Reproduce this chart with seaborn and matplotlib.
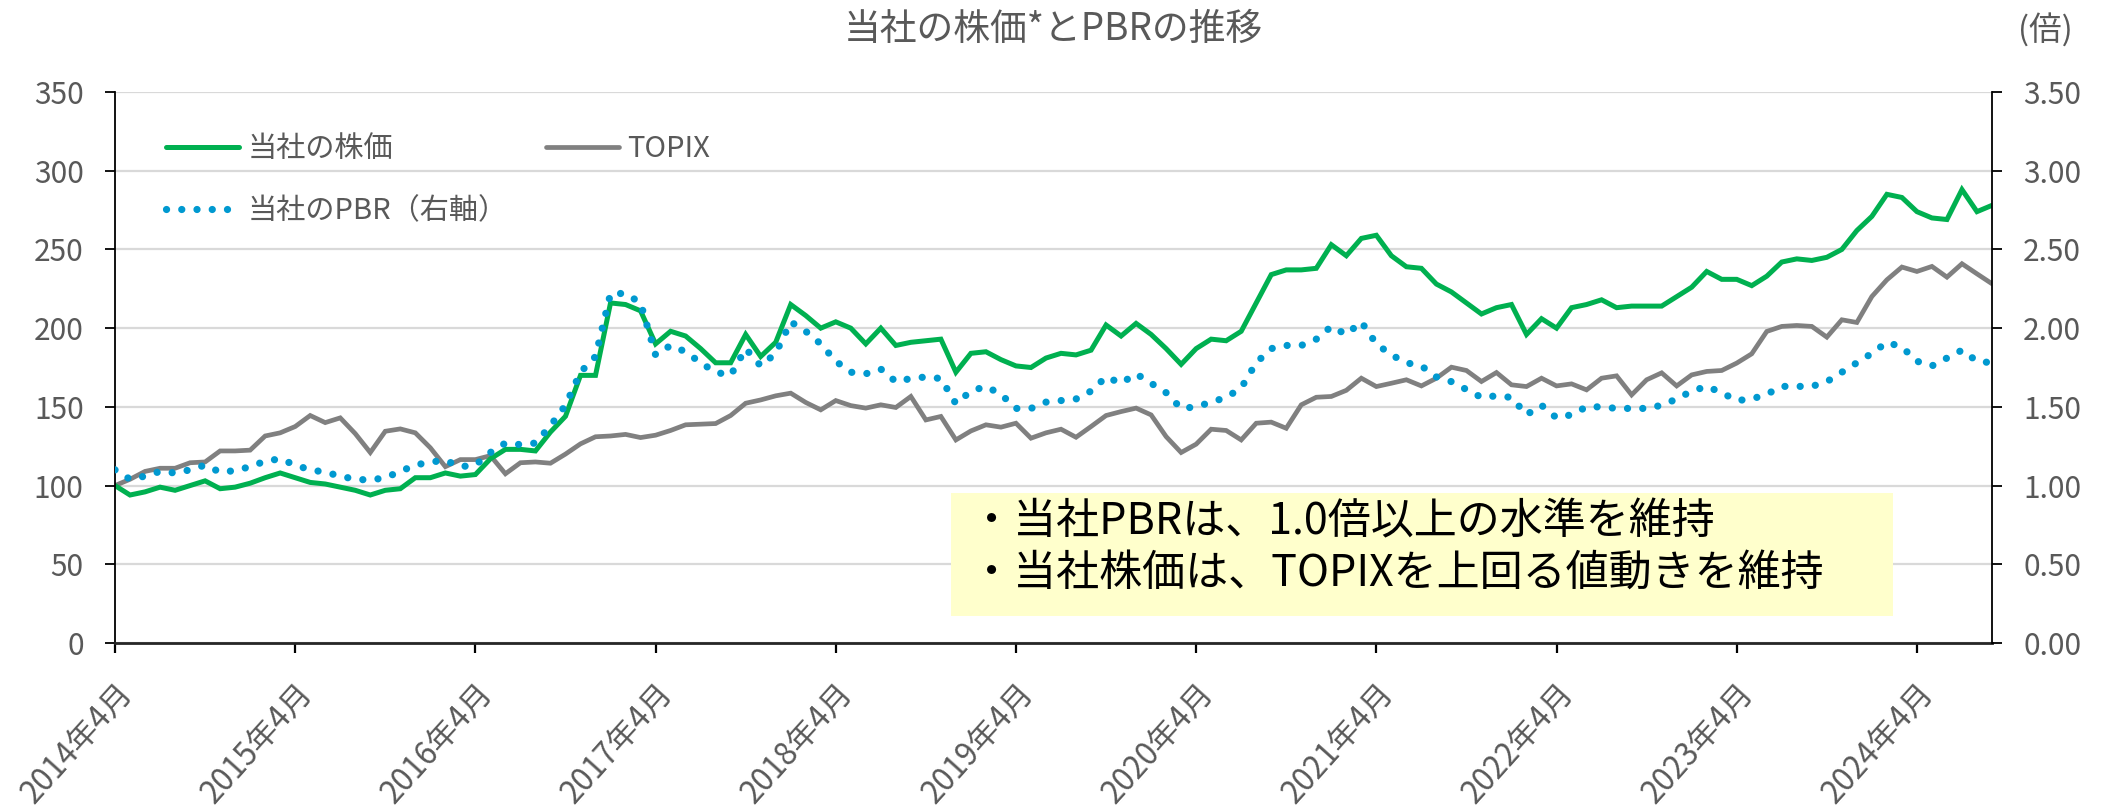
import numpy as np
import pandas as pd
import matplotlib
matplotlib.use("Agg")
import matplotlib.pyplot as plt
import seaborn as sns
from matplotlib.patches import Rectangle
from matplotlib.ticker import FormatStrFormatter

# ---- data (monthly, 2014-04 .. 2024-09) ----
start_month = "2014-04"
stock = [100, 94, 96, 99, 97, 100, 103, 98, 99, 101.5,
         105, 108, 105, 102, 101, 99, 97, 94, 97, 98,
         105, 105, 108, 106, 107, 117, 123, 123, 122, 134,
         144, 170, 170, 216, 215, 211, 190, 198, 195, 187,
         178, 178, 196, 182, 191, 215, 208, 200, 204, 200,
         190, 200, 189, 191, 192, 193, 172, 184, 185, 180,
         176, 175, 181, 184, 183, 186, 202, 195, 203, 196,
         187, 177, 187, 193, 192, 198, 216, 234, 237, 237,
         238, 253, 246, 257, 259, 246, 239, 238, 228, 223,
         216, 209, 213, 215, 196, 206, 200, 213, 215, 218,
         213, 214, 214, 214, 220, 226, 236, 231, 231, 227,
         233, 242, 244, 243, 245, 250, 262, 271, 285, 283,
         274, 270, 269, 288, 274, 278]
topix = [100, 104, 109, 111, 111, 114.5, 115, 122, 122, 122.5,
         131.5, 133.5, 137.5, 144.5, 140, 143, 133, 121, 134.5, 136,
         133.5, 124, 112, 116.5, 116.5, 119, 107.5, 114.5, 115, 114.2,
         120, 126.5, 131, 131.5, 132.5, 130.5, 132, 135, 138.6, 139,
         139.4, 144.5, 152.3, 154.4, 157, 158.7, 152.8, 148.1, 154, 150.8,
         149.2, 151.3, 149.6, 156.6, 141.7, 143.9, 129, 134.7, 138.6, 137.1,
         139.6, 130.1, 133.5, 135.8, 130.7, 137.5, 144.5, 147, 149.2, 144.9,
         131.1, 121, 126.3, 135.8, 135, 129, 139.6, 140.3, 136.4, 151.3,
         156.1, 156.6, 160.5, 168.2, 162.9, 165, 167.2, 163.3, 168.2, 175.2,
         173.1, 166.1, 171.8, 164, 162.9, 168.2, 163.3, 164.6, 160.8, 168.2,
         169.7, 157.6, 167.2, 171.6, 163.3, 170.3, 172.5, 173.1, 177.8, 183.7,
         197.9, 201.1, 201.7, 201.1, 194.3, 205.3, 203.6, 220.1, 230.7, 238.8,
         236, 239.2, 232.4, 240.9, 234.5, 228.2]
pbr = [1.10, 1.04, 1.06, 1.09, 1.08, 1.10, 1.13, 1.085, 1.095, 1.12,
       1.155, 1.17, 1.13, 1.10, 1.085, 1.06, 1.04, 1.035, 1.05, 1.09,
       1.13, 1.15, 1.16, 1.12, 1.13, 1.21, 1.27, 1.26, 1.27, 1.38,
       1.51, 1.72, 1.82, 2.22, 2.22, 2.16, 1.83, 1.89, 1.85, 1.78,
       1.72, 1.70, 1.87, 1.76, 1.84, 2.04, 1.98, 1.90, 1.79, 1.72,
       1.71, 1.74, 1.66, 1.68, 1.69, 1.68, 1.52, 1.60, 1.63, 1.58,
       1.49, 1.49, 1.53, 1.54, 1.55, 1.60, 1.69, 1.65, 1.71, 1.65,
       1.59, 1.49, 1.50, 1.53, 1.56, 1.62, 1.78, 1.87, 1.89, 1.89,
       1.93, 2.01, 1.96, 2.04, 1.90, 1.83, 1.78, 1.76, 1.69, 1.66,
       1.61, 1.56, 1.57, 1.56, 1.45, 1.51, 1.43, 1.45, 1.50, 1.50,
       1.49, 1.49, 1.49, 1.51, 1.55, 1.60, 1.63, 1.59, 1.54, 1.55,
       1.58, 1.63, 1.63, 1.63, 1.66, 1.72, 1.78, 1.84, 1.91, 1.88,
       1.79, 1.76, 1.81, 1.86, 1.79, 1.78]
series_names = ["当社の株価", "TOPIX", "当社のPBR（右軸）"]
title = "当社の株価*とPBRの推移"
right_unit = "(倍)"
note_lines = ["・当社PBRは、1.0倍以上の水準を維持",
              "・当社株価は、TOPIXを上回る値動きを維持"]
left_ticks = [0, 50, 100, 150, 200, 250, 300, 350]
right_ticks = [0.0, 0.5, 1.0, 1.5, 2.0, 2.5, 3.0, 3.5]

months = pd.period_range(start_month, periods=len(stock), freq="M")
month_labels = [f"{p.year}年{p.month}月" for p in months]
df = pd.DataFrame({"idx": np.arange(len(stock)), "stock": stock,
                   "topix": topix, "pbr": pbr})

# ---- style ----
sns.set_theme(style="white")
plt.rcParams["font.family"] = ["Noto Sans CJK JP", "DejaVu Sans"]
GREEN = "#00B050"
GRAY = "#808080"
BLUE = "#0099D0"
TXT = "#595959"

W, H = 2110, 810
fig = plt.figure(figsize=(W / 100, H / 100), dpi=100)
L, R, T, B = 115, 1992, 92, 643
ax = fig.add_axes([L / W, 1 - B / H, (R - L) / W, (B - T) / H])

sns.lineplot(data=df, x="idx", y="topix", ax=ax, color=GRAY, lw=3.4,
             label=series_names[1], solid_joinstyle="miter")
sns.lineplot(data=df, x="idx", y="stock", ax=ax, color=GREEN, lw=3.6,
             label=series_names[0], solid_joinstyle="miter")
ax2 = ax.twinx()
ax2.set_position(ax.get_position())
sns.lineplot(data=df, x="idx", y="pbr", ax=ax2, color=BLUE, lw=5.2,
             linestyle=(0, (0.01, 2.1)), dash_capstyle="round",
             label=series_names[2])

for a in (ax, ax2):
    lg = a.get_legend()
    if lg is not None:
        lg.remove()
    a.set_xlabel("")
    a.set_ylabel("")

ax.set_xlim(0, len(stock) - 1)
ax.set_ylim(0, 350)
ax2.set_ylim(0, 3.5)
ax.set_yticks(left_ticks)
ax2.set_yticks(right_ticks)
ax2.yaxis.set_major_formatter(FormatStrFormatter("%.2f"))
tick_idx = list(range(0, len(stock), 12))
ax.set_xticks(tick_idx)
ax.set_xticklabels([month_labels[i] for i in tick_idx], rotation=48,
                   ha="right", va="top", rotation_mode="anchor")

ax.yaxis.grid(True, color="#D9D9D9", lw=1.6)
ax.xaxis.grid(False)
ax.set_axisbelow(True)

ax.spines["top"].set_visible(False)
ax2.spines["top"].set_visible(False)
ax.spines["right"].set_visible(False)
ax2.spines["left"].set_visible(False)
ax2.spines["bottom"].set_visible(False)
for sp in (ax.spines["left"], ax.spines["bottom"], ax2.spines["right"]):
    sp.set_color("black")
    sp.set_linewidth(1.3)
ax.spines["bottom"].set_linewidth(2.0)
ax.spines["bottom"].set_color("#262626")

ax.tick_params(axis="y", left=True, length=7.5, width=1.3, color="black",
               pad=15, labelsize=21.5, labelcolor=TXT)
ax.tick_params(axis="x", bottom=True, length=7.5, width=1.6, color="black",
               pad=17, labelsize=22.5, labelcolor=TXT)
ax2.tick_params(axis="y", right=True, length=7.5, width=1.3, color="black",
                pad=15, labelsize=21.5, labelcolor=TXT)

# legend
h1, l1 = ax.get_legend_handles_labels()
h2, l2 = ax2.get_legend_handles_labels()
hd = dict(zip(l1 + l2, h1 + h2))
order = [series_names[0], series_names[2], series_names[1]]
fig.legend([hd[k] for k in order], order, ncol=2, loc="upper left",
           bbox_to_anchor=(166 / W, 1 - 134 / H), frameon=False,
           fontsize=21, handlelength=2.5, handletextpad=0.3,
           columnspacing=1.3, labelspacing=1.1, borderpad=0,
           borderaxespad=0, labelcolor=TXT)

# note box
fig.patches.append(Rectangle((951 / W, 1 - 616 / H), (1893 - 951) / W,
                             (616 - 493) / H, transform=fig.transFigure,
                             facecolor="#FFFFCC", edgecolor="none", zorder=2))
fig.text(970 / W, 1 - 522 / H, note_lines[0], ha="left", va="center",
         fontsize=31, color="black", zorder=3)
fig.text(970 / W, 1 - 574 / H, note_lines[1], ha="left", va="center",
         fontsize=31, color="black", zorder=3)

fig.text(1053 / W, 1 - 29 / H, title, ha="center", va="center",
         fontsize=26.5, color=TXT)
fig.text(2045 / W, 1 - 31 / H, right_unit, ha="center", va="center",
         fontsize=23.5, color=TXT)

fig.savefig("out.png", dpi=100, facecolor="white")
